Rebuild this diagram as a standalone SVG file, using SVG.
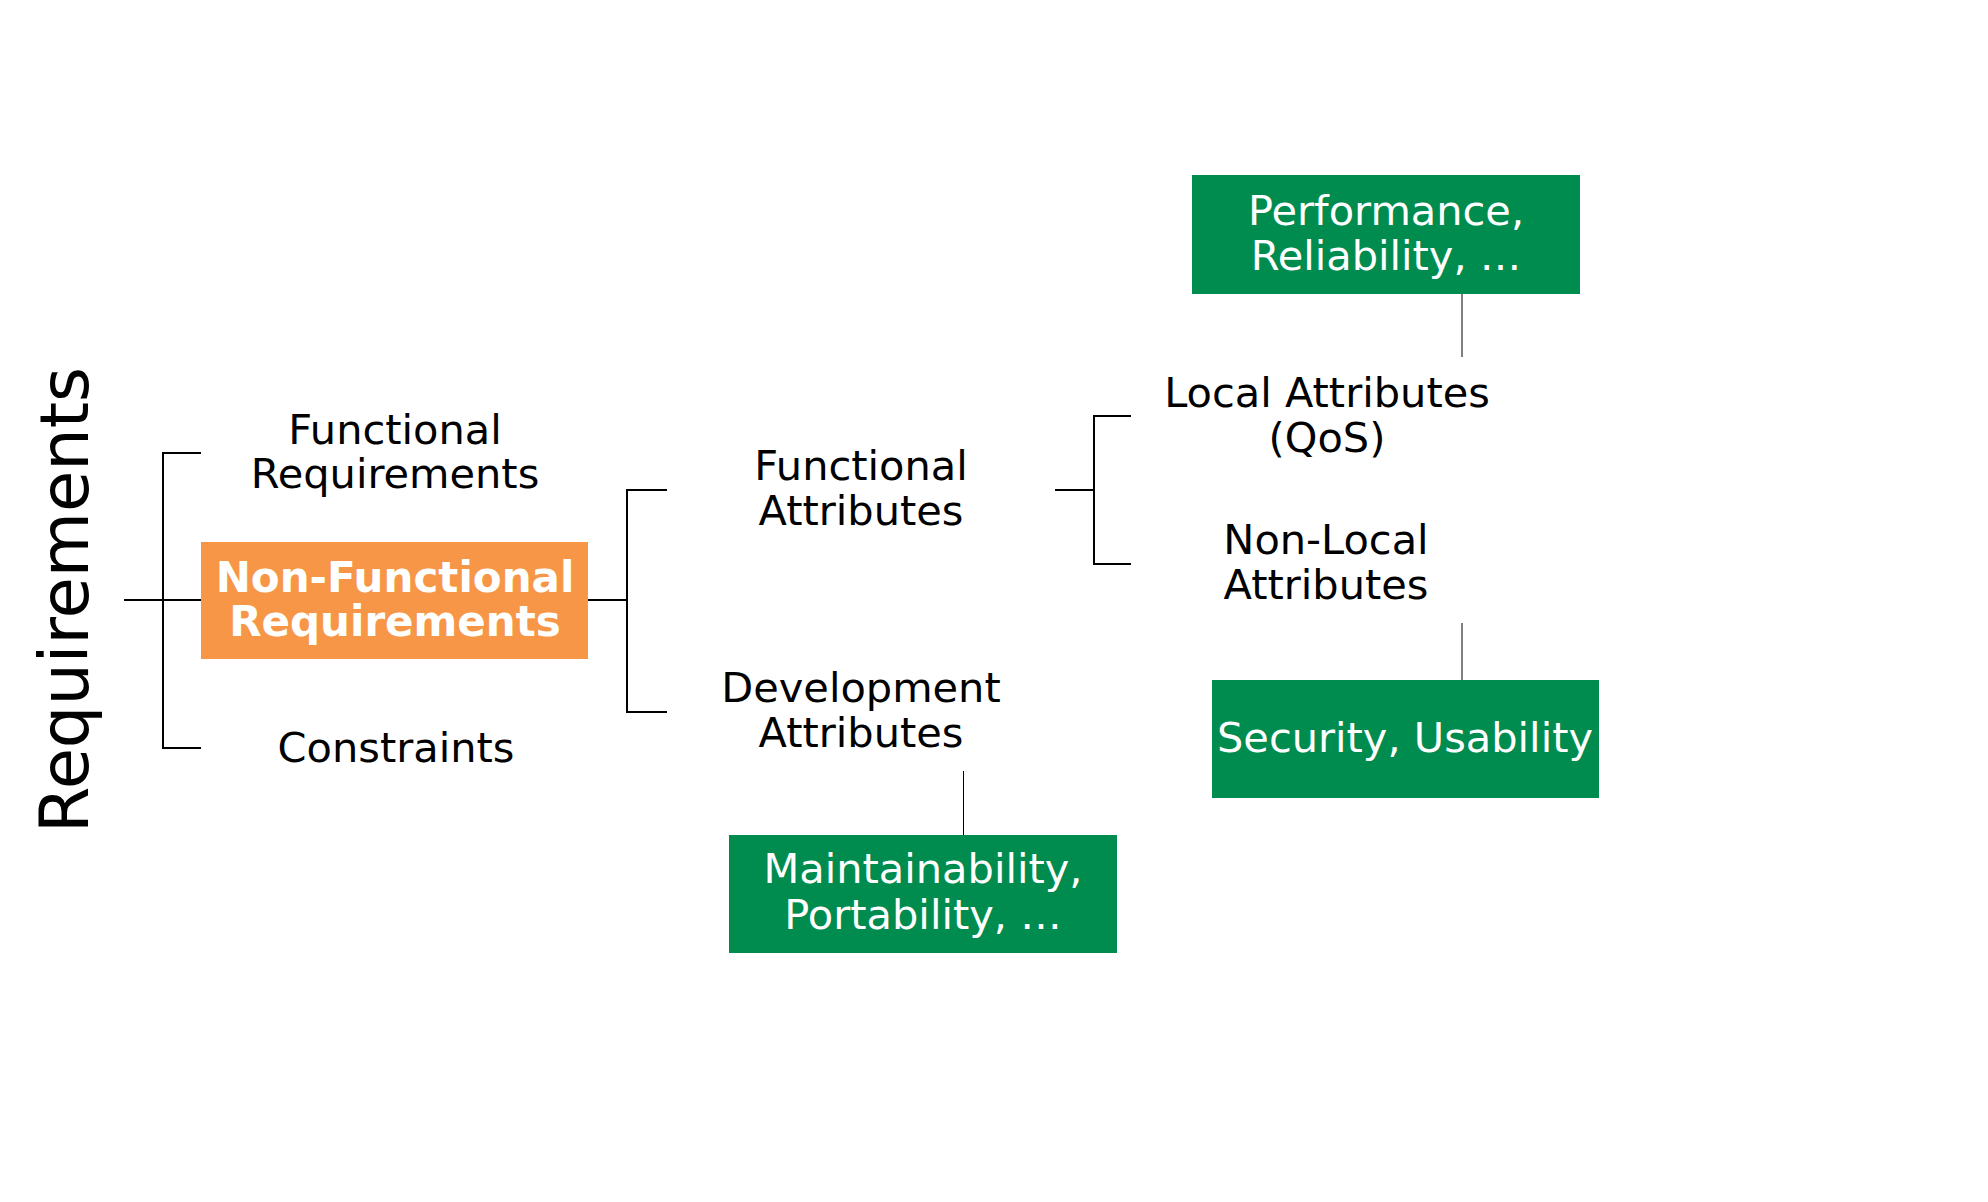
<svg xmlns="http://www.w3.org/2000/svg" width="1988" height="1202" viewBox="0 0 1988 1202">
<style>
text{font-family:"DejaVu Sans",Verdana,sans-serif;font-size:41.5px;text-anchor:middle;fill:#000}
.w{fill:#fff}
.b{font-weight:bold;font-size:42px}
.br{fill:none;stroke:#000;stroke-width:2}
.th{fill:none;stroke:#000;stroke-width:1}
.g{fill:#008C4F}
</style>
<rect width="1988" height="1202" fill="#fff"/>
<g id="connectors">
<path class="br" d="M124,600H201M150,600H163M201,453H163V748H201"/>
<path class="br" d="M588,600H627M667,490H627V712H667"/>
<path class="br" d="M1055,490H1094M1131,416H1094V564H1131"/>
<path class="th" d="M1462,294V357M1462,623V680M963.5,771V835"/>
</g>
<g id="root"><text transform="translate(88,600) rotate(-90)" style="font-size:67px">Requirements</text></g>
<g id="functional-requirements"><text x="395" y="444">Functional</text><text x="395" y="488">Requirements</text></g>
<g id="non-functional-requirements"><rect x="201" y="542" width="387" height="117" fill="#F79646"/><text class="w b" x="395" y="592">Non-Functional</text><text class="w b" x="395" y="636">Requirements</text></g>
<g id="constraints"><text x="396" y="762">Constraints</text></g>
<g id="functional-attributes"><text x="861" y="480">Functional</text><text x="861" y="525">Attributes</text></g>
<g id="development-attributes"><text x="861" y="702">Development</text><text x="861" y="747">Attributes</text></g>
<g id="local-attributes"><text x="1327" y="407">Local Attributes</text><text x="1327" y="452">(QoS)</text></g>
<g id="non-local-attributes"><text x="1326" y="554">Non-Local</text><text x="1326" y="599">Attributes</text></g>
<g id="performance"><rect class="g" x="1192" y="175" width="388" height="119"/><text class="w" x="1386" y="225">Performance,</text><text class="w" x="1386" y="270">Reliability, …</text></g>
<g id="security"><rect class="g" x="1212" y="680" width="387" height="118"/><text class="w" x="1405" y="752">Security, Usability</text></g>
<g id="maintainability"><rect class="g" x="729" y="835" width="388" height="118"/><text class="w" x="923" y="883">Maintainability,</text><text class="w" x="923" y="929">Portability, …</text></g>
</svg>
